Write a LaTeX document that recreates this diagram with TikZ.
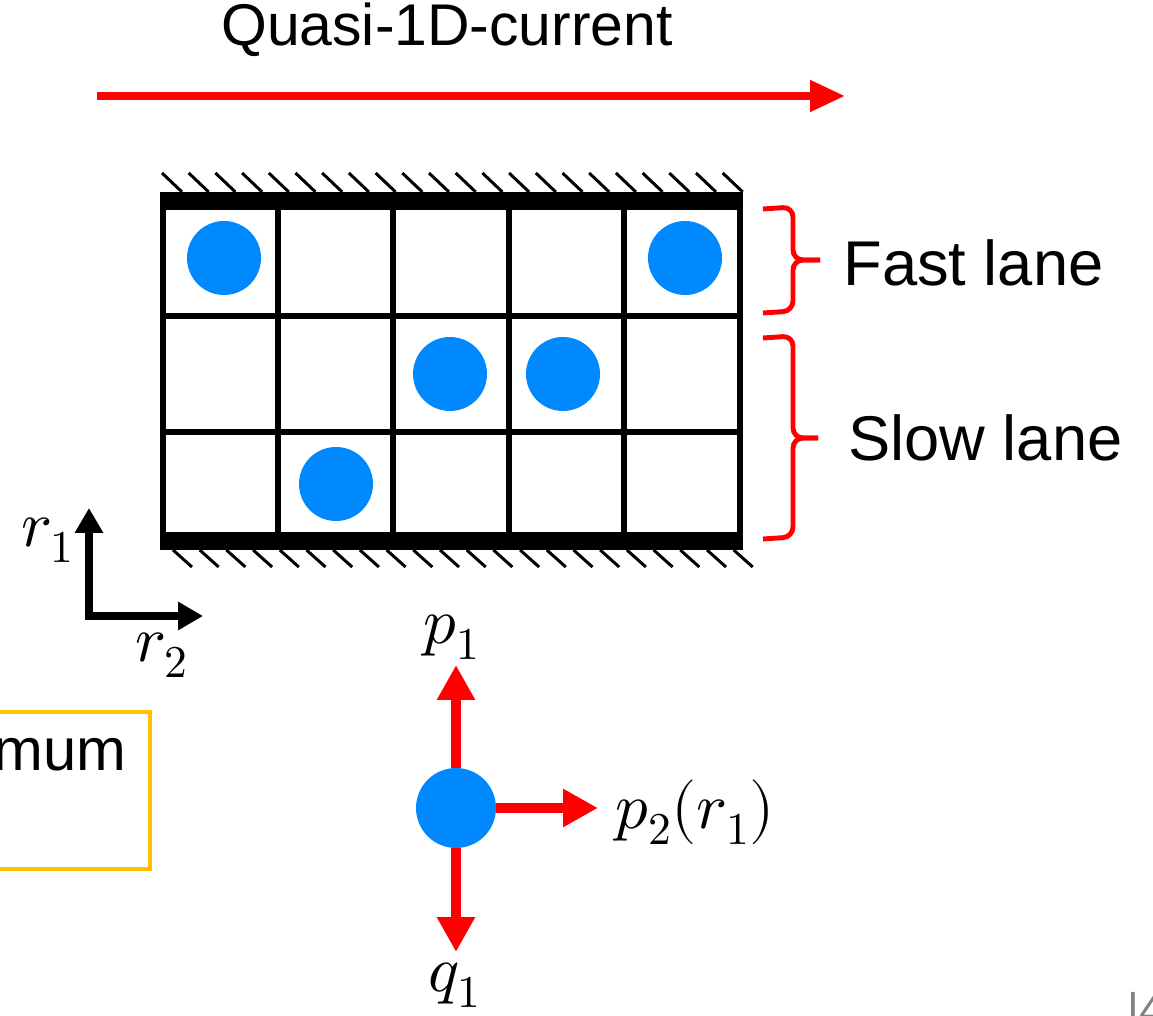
\documentclass[tikz,border=0pt]{standalone}
\usepackage{unicode-math}
\setmainfont{Liberation Sans}
\setmathfont{Latin Modern Math}
\usetikzlibrary{arrows.meta, positioning, calc}
\definecolor{dotblue}{RGB}{0,136,255}
\definecolor{boxorange}{RGB}{255,192,0}

\begin{document}
\begin{tikzpicture}[x=0.02cm, y=-0.02cm,
      dot/.style={circle, fill=dotblue, minimum size=1.48cm, inner sep=0pt},
      bigdot/.style={circle, fill=dotblue, minimum size=1.6cm, inner sep=0pt},
      gridline/.style={line width=3.4pt},
      wall/.style={line width=10pt},
      hatch/.style={line width=1.7pt},
      lbl/.style={font=\fontsize{36}{42}\selectfont, inner sep=0pt},
      mlbl/.style={font=\fontsize{37}{42}\selectfont, inner sep=0pt},
      curarr/.style={red, line width=4.5pt, -{Triangle[length=0.7cm, width=0.6cm]}},
      parr/.style={red, line width=6.2pt, -{Triangle[length=0.7cm, width=0.72cm]}},
      axarr/.style={line width=5pt, {Triangle[length=0.5cm, width=0.54cm]}-{Triangle[length=0.5cm, width=0.54cm]}},
      lane/.style={red, line width=2.8pt, rounded corners=0.2cm}
    ]
    \useasboundingbox (0,0) rectangle (1153,1016);
    \clip (0,0) rectangle (1153,1016);

    % current along the channel
    \coordinate (cur-s) at (97,96);
    \coordinate (cur-e) at (845,96);
    \draw[curarr] (cur-s) -- (cur-e);
    \node[lbl, font=\fontsize{33.5}{40}\selectfont] (cur-lbl) at (447,30) {Quasi-1D-current};

    % lattice
    \foreach \x in {163,278,393,509,624,740}
      \draw[gridline] (\x,201) -- (\x,541);
    \foreach \y in {316,432}
      \draw[gridline] (163,\y) -- (740,\y);
    \draw[wall] (160,201) -- (743,201);
    \draw[wall] (160,541) -- (743,541);
    \foreach \i in {0,...,21} {
      \draw[hatch] ({162+26.7*\i},173) -- ++(20,19);
      \draw[hatch] ({173+26.7*\i},550) -- ++(19,17);
    }

    % particles
    \node[dot] (d1) at (224,258) {};
    \node[dot] (d2) at (685,258) {};
    \node[dot] (d3) at (450,374) {};
    \node[dot] (d4) at (563,374) {};
    \node[dot] (d5) at (336,484) {};

    % lanes
    \coordinate (fast-tip) at (820,260);
    \coordinate (slow-tip) at (818,438);
    \draw[lane] (763,209) -- (793,207) -- (793,260) -- (fast-tip);
    \draw[lane] (763,313) -- (793,311) -- (793,260) -- (fast-tip);
    \draw[lane] (763,338) -- (793,336) -- (793,438) -- (slow-tip);
    \draw[lane] (763,539) -- (793,537) -- (793,438) -- (slow-tip);
    \node[lbl, anchor=west] (fast) at (843,263) {Fast lane};
    \node[lbl, anchor=west] (slow) at (848,438) {Slow lane};

    % axes
    \coordinate (ax-y) at (89,508);
    \coordinate (ax-o) at (89,616);
    \coordinate (ax-x) at (203,616);
    \draw[axarr] (ax-y) -- (ax-o) -- (ax-x);
    \node[mlbl] (r1) at (48,540) {$r_1$};
    \node[mlbl] (r2) at (162,655) {$r_2$};

    % box on the left
    \draw[boxorange, line width=2.8pt] (-20,712) rectangle (150,869);
    \node[lbl, font=\fontsize{34}{40}\selectfont, anchor=base east] (opt) at (127,770) {mum};

    % momenta of one particle
    \node[bigdot] (pt) at (456,808) {};
    \coordinate (pt-up) at (456,665);
    \coordinate (pt-rt) at (598,808);
    \coordinate (pt-dn) at (456,952);
    \draw[parr] (pt.north) -- (pt-up);
    \draw[parr] (pt.east) -- (pt-rt);
    \draw[parr] (pt.south) -- (pt-dn);
    \node[mlbl] (p1) at (452,637) {$p_1$};
    \node[mlbl, anchor=west] (p2) at (615,812) {$p_2(r_1)$};
    \node[mlbl] (q1) at (455,985) {$q_1$};

    \node[lbl, gray, font=\fontsize{26}{30}\selectfont, anchor=base west] (page) at (1127,1025) {|4};
  \end{tikzpicture}
\end{document}
